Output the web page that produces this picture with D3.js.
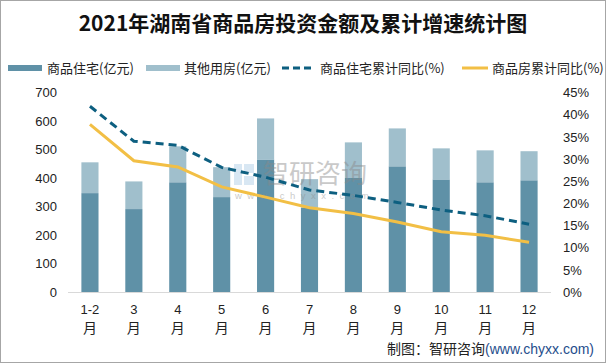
<!DOCTYPE html>
<html><head><meta charset="utf-8">
<script src="https://cdn.jsdelivr.net/npm/d3@7"></script>
<style>body{margin:0;background:#fff}svg{display:block}</style>
</head><body><svg id="c" width="606" height="363"></svg>
<script>
const categories = ["1-2","3","4","5","6","7","8","9","10","11","12"];
const residential = [347, 291, 385, 333, 465, 296, 400, 441, 395, 385, 392];
const otherUse = [108, 97, 126, 105, 144, 100, 125, 133, 109, 112, 102];
const resGrowth = [41.9, 34.0, 33.1, 28.1, 25.9, 23.0, 21.8, 20.2, 18.5, 17.2, 15.3];
const allGrowth = [37.8, 29.6, 28.2, 23.7, 21.4, 19.0, 17.7, 15.8, 13.6, 12.8, 11.2];
const leftTicks = [0,100,200,300,400,500,600,700];
const rightTicks = [0,5,10,15,20,25,30,35,40,45];
const seriesNames = ["商品住宅(亿元)","其他用房(亿元)","商品住宅累计同比(%)","商品房累计同比(%)"];
const colors = {res:"#5f91a7", other:"#a0bfcc", dash:"#0d5f80", gold:"#f2bf45"};

const svg = d3.select("#c");
const font = "'Noto Sans CJK SC','Noto Sans',sans-serif";
const latin = "'Liberation Sans',Arial,sans-serif";
svg.append("rect").attr("x",0.5).attr("y",0.5).attr("width",605).attr("height",362)
  .attr("fill","#fff").attr("stroke","#a6a6a6");

svg.append("text").attr("x",303).attr("y",31).attr("text-anchor","middle")
  .attr("font-family","'Noto Sans CJK SC',serif").attr("font-weight","bold").attr("font-size",21)
  .attr("fill","#111").text("2021年湖南省商品房投资金额及累计增速统计图");

const x = d3.scaleBand().domain(categories).range([68,551]).paddingInner(0.61).paddingOuter(0.305);
const yL = d3.scaleLinear().domain([0,700]).range([292,92.5]);
const yR = d3.scaleLinear().domain([0,45]).range([292,92.5]);

// bars
const gb = svg.append("g");
gb.selectAll(".r").data(categories).join("rect")
  .attr("x",d=>x(d)).attr("width",x.bandwidth())
  .attr("y",(d,i)=>yL(residential[i])).attr("height",(d,i)=>yL(0)-yL(residential[i]))
  .attr("fill",colors.res);
gb.selectAll(".o").data(categories).join("rect")
  .attr("x",d=>x(d)).attr("width",x.bandwidth())
  .attr("y",(d,i)=>yL(residential[i]+otherUse[i])).attr("height",(d,i)=>yL(residential[i])-yL(residential[i]+otherUse[i]))
  .attr("fill",colors.other);

// watermark
const wm = svg.append("g").attr("opacity",0.45);
wm.append("rect").attr("x",234).attr("y",164).attr("width",8).attr("height",21).attr("fill","#a9cbe6");
wm.append("rect").attr("x",244).attr("y",164).attr("width",10).attr("height",9).attr("fill","#a9cbe6");
wm.append("rect").attr("x",244).attr("y",176).attr("width",10).attr("height",9).attr("fill","#a9cbe6");
wm.append("text").attr("x",263).attr("y",183).attr("font-family",font).attr("font-size",26)
  .attr("fill","#8a8a8a").text("智研咨询");
wm.append("text").attr("x",235).attr("y",199).attr("font-family",latin).attr("font-size",9.5)
  .attr("letter-spacing",5.5).attr("fill","#8a8a8a").text("www.chyxx.com");

// baseline
svg.append("line").attr("x1",68).attr("x2",551).attr("y1",292.5).attr("y2",292.5).attr("stroke","#d9d9d9");

// lines
const cx = d=>x(d)+x.bandwidth()/2;
const lineR = d3.line().x((d,i)=>cx(categories[i])).y(d=>yR(d));
svg.append("path").attr("d",lineR(resGrowth)).attr("fill","none").attr("stroke",colors.dash)
  .attr("stroke-width",3).attr("stroke-dasharray","8,5");
svg.append("path").attr("d",lineR(allGrowth)).attr("fill","none").attr("stroke",colors.gold)
  .attr("stroke-width",3);

// axes
const axL = svg.append("g").attr("transform","translate(57,0)")
  .call(d3.axisLeft(yL).tickValues(leftTicks).tickSize(0).tickPadding(0));
axL.select(".domain").remove();
axL.selectAll("text").attr("font-family",latin).attr("font-size",13).attr("fill","#222");
const axR = svg.append("g").attr("transform","translate(563,0)")
  .call(d3.axisRight(yR).tickValues(rightTicks).tickFormat(d=>d+"%").tickSize(0).tickPadding(0));
axR.select(".domain").remove();
axR.selectAll("text").attr("font-family",latin).attr("font-size",13).attr("fill","#222");

// x labels
const xl = svg.append("g");
categories.forEach(c=>{
  xl.append("text").attr("x",cx(c)).attr("y",314).attr("text-anchor","middle")
    .attr("font-family",latin).attr("font-size",13).attr("fill","#222").text(c);
  xl.append("text").attr("x",cx(c)).attr("y",333).attr("text-anchor","middle")
    .attr("font-family",font).attr("font-size",14).attr("fill","#222").text("月");
});

// legend
const lg = svg.append("g").attr("font-family",font).attr("font-size",13).attr("fill","#222");
lg.append("rect").attr("x",8).attr("y",65).attr("width",34).attr("height",6).attr("fill",colors.res);
lg.append("text").attr("x",47).attr("y",73).text(seriesNames[0]);
lg.append("rect").attr("x",146).attr("y",65).attr("width",34).attr("height",6).attr("fill",colors.other);
lg.append("text").attr("x",184).attr("y",73).text(seriesNames[1]);
lg.append("line").attr("x1",282).attr("x2",314).attr("y1",68).attr("y2",68).attr("stroke",colors.dash)
  .attr("stroke-width",3).attr("stroke-dasharray","7,4");
lg.append("text").attr("x",320).attr("y",73).text(seriesNames[2]);
lg.append("line").attr("x1",462).attr("x2",488).attr("y1",68).attr("y2",68).attr("stroke",colors.gold)
  .attr("stroke-width",3);
lg.append("text").attr("x",492).attr("y",73).text(seriesNames[3]);

// source
const src = svg.append("text").attr("x",594).attr("y",354).attr("text-anchor","end")
  .attr("font-family",font).attr("font-size",14).attr("fill","#222");
src.append("tspan").text("制图：智研咨询");
src.append("tspan").attr("font-family",latin).attr("fill","#1f4e8c").text("(www.chyxx.com)");
</script></body></html>
